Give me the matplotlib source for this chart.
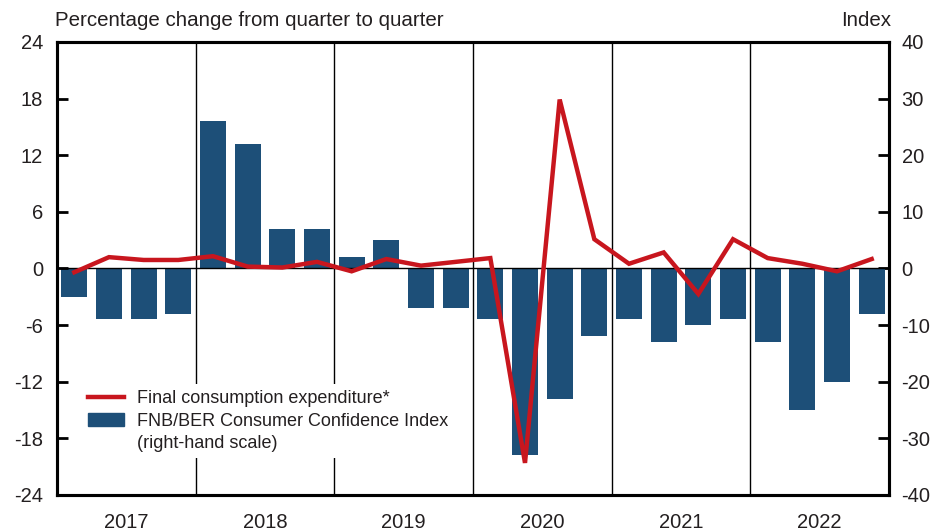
import numpy as np
import matplotlib
matplotlib.use("Agg")
from matplotlib import pyplot as plt
from matplotlib.lines import Line2D
from matplotlib.patches import Patch

plt.rcParams['font.family'] = ['Liberation Sans', 'DejaVu Sans']
plt.rcParams['axes.unicode_minus'] = False

years = ['2017', '2018', '2019', '2020', '2021', '2022']

# FNB/BER consumer confidence index (right-hand scale), quarterly
confidence = [-5, -9, -9, -8,
              26, 22, 7, 7,
              2, 5, -7, -7,
              -9, -33, -23, -12,
              -9, -13, -10, -9,
              -13, -25, -20, -8]

# final consumption expenditure, % change q/q (left-hand scale)
consumption = [-0.4, 1.2, 0.9, 0.9,
               1.3, 0.2, 0.1, 0.7,
               -0.3, 1.0, 0.3, 0.7,
               1.1, -20.6, 17.9, 3.1,
               0.5, 1.7, -2.7, 3.1,
               1.1, 0.5, -0.3, 1.0]

red = '#C8161E'
blue = '#1D4F78'
txt = '#231F20'

fig = plt.figure(figsize=(9.37, 5.31), dpi=100)
ax = fig.add_axes([0.0608, 0.0678, 0.8880, 0.8532])
ax2 = ax.twinx()

# line axis on top of bar axis
ax.set_zorder(ax2.get_zorder() + 1)
ax.patch.set_visible(False)

x = np.arange(len(confidence))
ax2.bar(x, confidence, width=0.75, color=blue, zorder=2)
ax2.axhline(0, color='black', lw=1.0, zorder=3)
for i in range(1, len(years)):
    ax2.axvline(4 * i - 0.5, color='black', lw=1.0, zorder=1)

ax.plot(x, consumption, color=red, lw=3.2, solid_joinstyle='miter', zorder=5)

ax.set_xlim(-0.5, len(confidence) - 0.5)
ax.set_ylim(-24, 24)
ax.set_yticks(np.arange(-24, 25, 6))
ax2.set_ylim(-40, 40)
ax2.set_yticks(np.arange(-40, 41, 10))

ax.set_xticks([4 * i + 1.5 for i in range(len(years))])
ax.set_xticklabels(years)
ax.tick_params(axis='x', length=0, pad=13, labelsize=14.5, labelcolor=txt)
ax.tick_params(axis='y', direction='in', length=8, width=2, pad=10,
               labelsize=14.5, labelcolor=txt)
ax2.tick_params(axis='y', direction='in', length=8, width=2, pad=9,
                labelsize=14.5, labelcolor=txt)

for a in (ax, ax2):
    for s in a.spines.values():
        s.set_linewidth(2.2)

fig.text(0.0587, 0.962, 'Percentage change from quarter to quarter',
         fontsize=14.8, color=txt, ha='left', va='center')
fig.text(0.951, 0.962, 'Index', fontsize=14.8, color=txt,
         ha='right', va='center')

handles = [Line2D([], [], color=red, lw=3.2),
           Patch(color=blue),
           Line2D([], [], alpha=0)]
labels = ['Final consumption expenditure*',
          'FNB/BER Consumer Confidence Index',
          '(right-hand scale)']
leg = ax.legend(handles, labels, loc='lower left',
                bbox_to_anchor=(0.02, 0.062), frameon=True, fancybox=False,
                facecolor='white', edgecolor='none', framealpha=1,
                fontsize=13, handlelength=2.0, handletextpad=0.7,
                labelspacing=0.32, borderpad=0.3)
for t in leg.get_texts():
    t.set_color(txt)

fig.savefig('out.png', dpi=100)
